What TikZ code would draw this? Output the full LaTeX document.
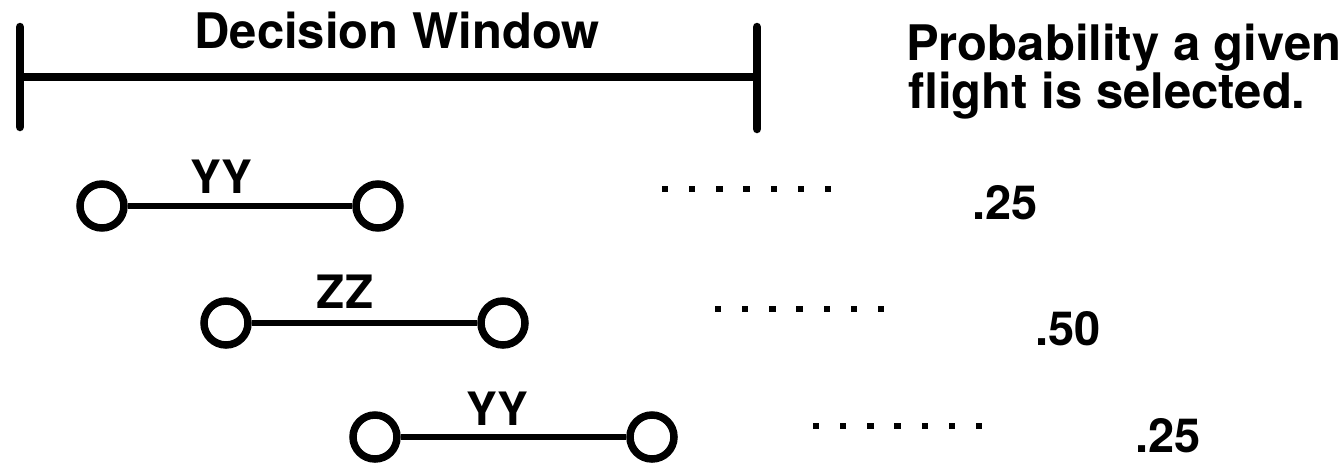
\documentclass[tikz,border=0pt]{standalone}
\usepackage{fontspec}
\setmainfont{TeX Gyre Heros}
\begin{document}
\begin{tikzpicture}[x=1pt,y=-1pt,
  bigtext/.style={font=\fontsize{49}{52}\selectfont\bfseries,inner sep=0pt},
  labtext/.style={font=\fontsize{46}{48}\selectfont\bfseries,inner sep=0pt,anchor=base},
  numtext/.style={font=\fontsize{47}{48}\selectfont\bfseries,inner sep=0pt,anchor=base west},
  endpt/.style={circle,draw=black,line width=7.5pt,minimum size=44pt,inner sep=0pt},
  link/.style={line width=5.5pt},
  windowline/.style={line width=8.5pt,line cap=round},
  dotsq/.style={rectangle,fill=black,minimum size=6.5pt,inner sep=0pt}]
\useasboundingbox (0,0) rectangle (1339,464);
% decision window
\coordinate (lt) at (20,27);
\coordinate (lb) at (20,127);
\coordinate (lm) at (20,77);
\coordinate (rt) at (757,27);
\coordinate (rb) at (757,129);
\coordinate (rm) at (757,77);
\draw[windowline] (lt) -- (lb);
\draw[windowline] (rt) -- (rb);
\draw[line width=8.5pt] (lm) -- (rm);
\node[bigtext,anchor=base] (dw) at (397,48) {Decision Window};
\node[bigtext,anchor=base west] (p1) at (906,60) {Probability a given};
\node[bigtext,anchor=base west] (p2) at (908,108) {flight is selected.};
% row 1
\node[endpt] (a1) at (102,206) {};
\node[endpt] (b1) at (378,206) {};
\draw[link] (a1) -- (b1);
\node[labtext] (t1) at (221,193) {YY};
\foreach \i in {0,...,6} \node[dotsq] (r1d\i) at (665+27.2*\i,189) {};
\node[numtext] (n1) at (972,219) {.25};
% row 2
\node[endpt] (a2) at (226,323) {};
\node[endpt] (b2) at (503,323) {};
\draw[link] (a2) -- (b2);
\node[labtext] (t2) at (345,308) {ZZ};
\foreach \i in {0,...,6} \node[dotsq] (r2d\i) at (718+27.2*\i,309) {};
\node[numtext] (n2) at (1035,345) {.50};
% row 3
\node[endpt] (a3) at (375,437) {};
\node[endpt] (b3) at (652,437) {};
\draw[link] (a3) -- (b3);
\node[labtext] (t3) at (497,425) {YY};
\foreach \i in {0,...,6} \node[dotsq] (r3d\i) at (816+27.2*\i,426) {};
\node[numtext] (n3) at (1135,452) {.25};
\end{tikzpicture}
\end{document}
